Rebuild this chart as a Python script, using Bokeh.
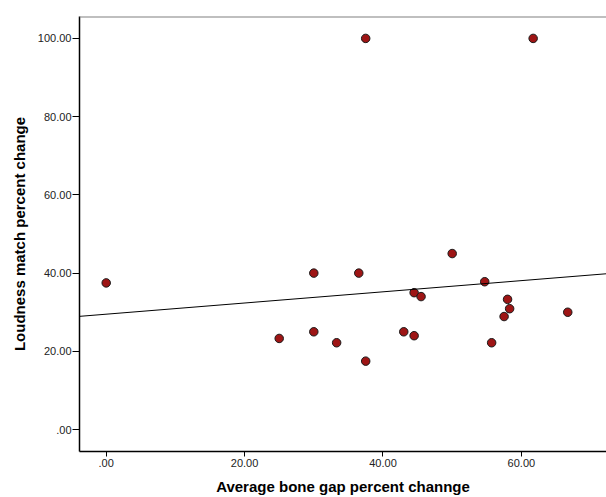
from bokeh.plotting import figure
from bokeh.models import Range1d, FixedTicker, Span, Slope
from bokeh.embed import file_html
from bokeh.resources import INLINE

# Data
bone_gap = [0, 25, 30, 30, 33.3, 36.5, 37.5, 37.5, 43, 44.5, 44.5, 45.5, 50,
            54.7, 55.7, 57.5, 58, 58.3, 61.7, 66.7]
loudness = [37.5, 23.3, 40, 25, 22.2, 40, 17.5, 100, 25, 35, 24, 34, 45,
            37.8, 22.2, 28.9, 33.3, 30.9, 100, 30]

# Fit line as drawn in the picture
fit_intercept = 29.5
fit_slope = 0.143

x_ticks = [0, 20, 40, 60]
x_tick_labels = [".00", "20.00", "40.00", "60.00"]
y_ticks = [0, 20, 40, 60, 80, 100]
y_tick_labels = [".00", "20.00", "40.00", "60.00", "80.00", "100.00"]

p = figure(width=606, height=497, output_backend="svg", toolbar_location=None,
           x_range=Range1d(-3.86, 72.3), y_range=Range1d(-5.6, 105.6),
           min_border_left=79, min_border_top=16, min_border_right=0,
           min_border_bottom=45)
p.background_fill_color = "white"
p.border_fill_color = "white"
p.outline_line_color = None
p.grid.visible = False

font = "Liberation Sans"

p.xaxis.ticker = FixedTicker(ticks=x_ticks)
p.xaxis.major_label_overrides = dict(zip(x_ticks, x_tick_labels))
p.yaxis.ticker = FixedTicker(ticks=y_ticks)
p.yaxis.major_label_overrides = dict(zip(y_ticks, y_tick_labels))

for ax in (p.xaxis[0], p.yaxis[0]):
    ax.axis_line_color = "black"
    ax.axis_line_width = 1.5
    ax.major_tick_line_color = "black"
    ax.major_tick_line_width = 1
    ax.minor_tick_line_color = None
    ax.major_tick_in = 0
    ax.major_label_text_font = font
    ax.major_label_text_font_size = "11px"
    ax.major_label_text_color = "#222222"
    ax.axis_label_text_font = font
    ax.axis_label_text_font_size = "15px"
    ax.axis_label_text_font_style = "bold"
    ax.axis_label_text_color = "black"

p.xaxis.axis_label = "Average bone gap percent channge"
p.xaxis.major_tick_out = 5
p.xaxis.major_label_standoff = 2
p.xaxis.axis_label_standoff = 8

p.yaxis.axis_label = "Loudness match percent change"
p.yaxis.major_tick_out = 7
p.yaxis.major_label_standoff = 1
p.yaxis.axis_label_standoff = 7

# Top border (gray)
p.add_layout(Span(location=105.6, dimension="width", line_color="#808080",
                  line_width=2))

# Fit line
p.add_layout(Slope(gradient=fit_slope, y_intercept=fit_intercept,
                   line_color="black", line_width=1))

p.scatter(bone_gap, loudness, size=8.5, fill_color="#9e1515",
          line_color="#1a1a1a", line_width=1)

open("out.html", "w").write(file_html(p, INLINE))
